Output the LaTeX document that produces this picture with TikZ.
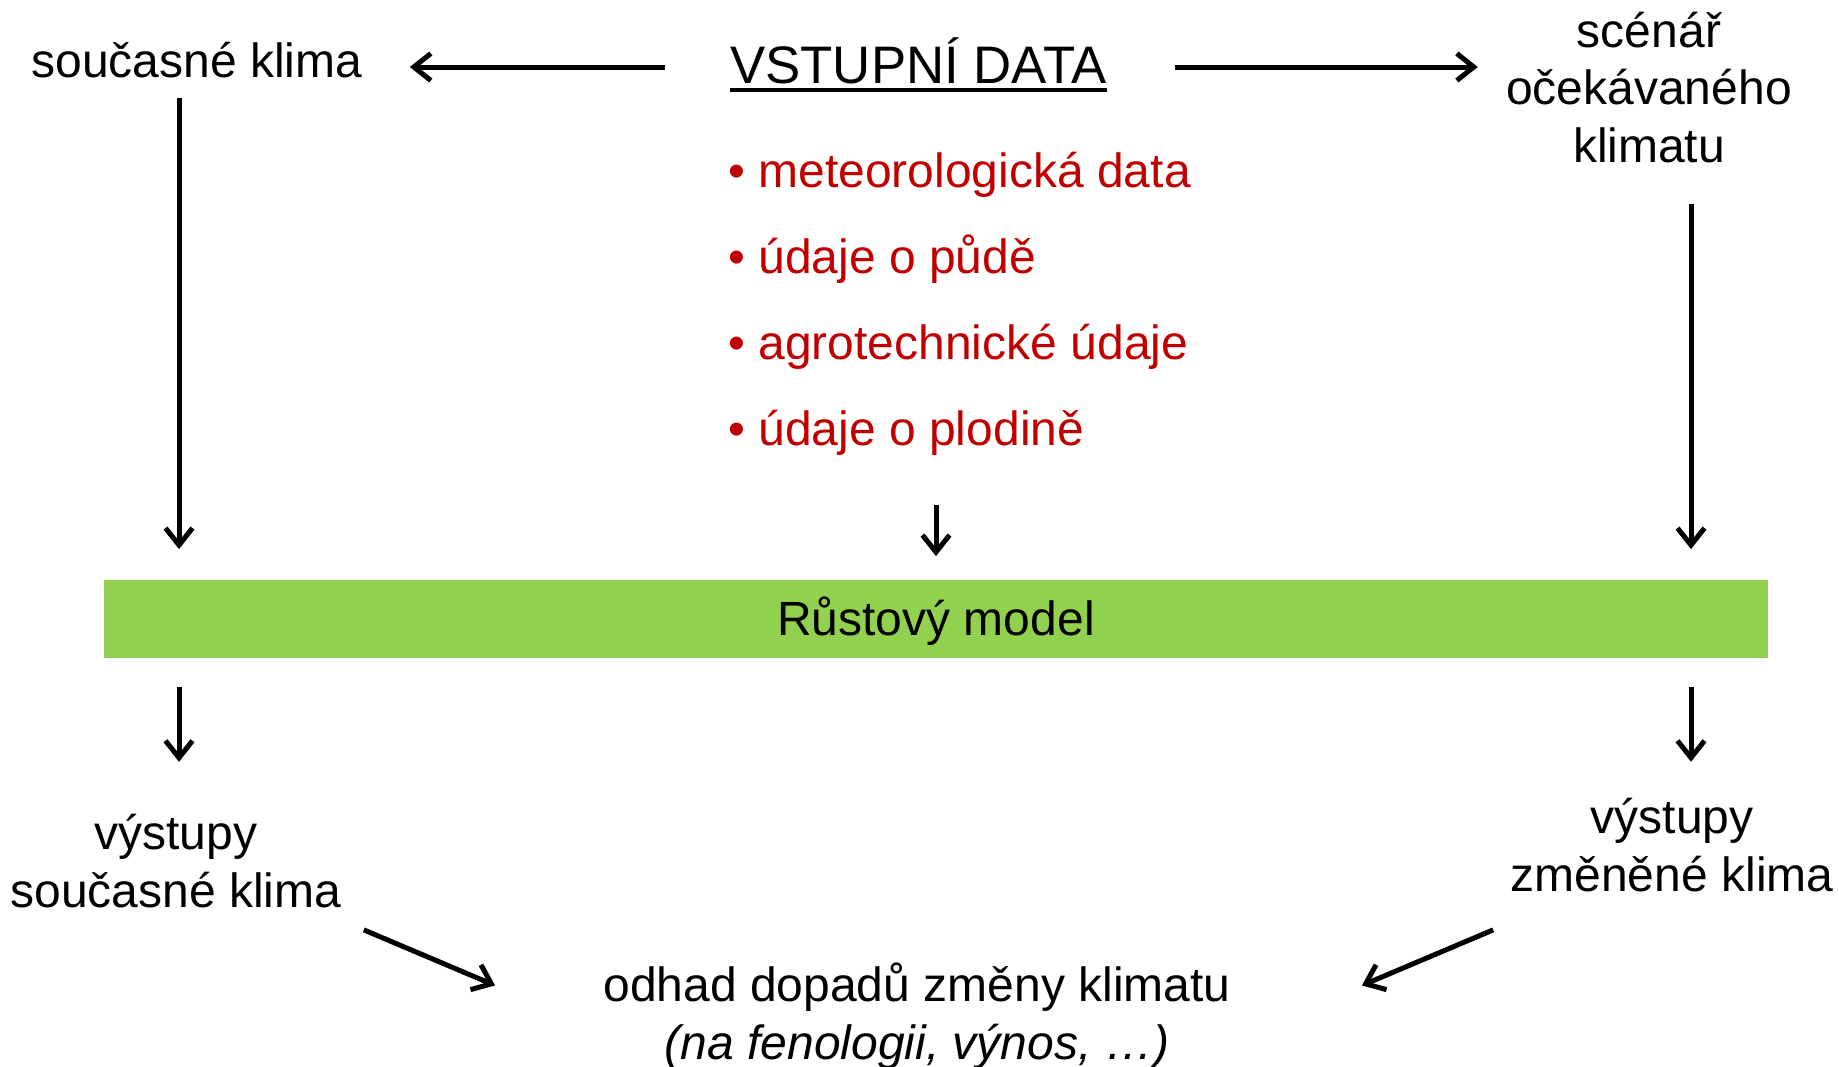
\documentclass[tikz,border=0pt]{standalone}
\usepackage{fontspec}
\setmainfont{Liberation Sans}
\usetikzlibrary{arrows.meta,positioning,calc}
\definecolor{datared}{HTML}{C00000}
\definecolor{modelgreen}{HTML}{92D050}

\begin{document}
\begin{tikzpicture}[x=0.5pt, y=-0.5pt, >={Straight Barb[length=8.5pt,width=13.5pt]},
  every node/.style={font=\fontsize{24}{28.75}\selectfont, inner sep=0pt},
  txt/.style={align=center, anchor=base},
  arr/.style={->, line width=2.5pt}]
  \useasboundingbox (0,0) rectangle (1839,1066);
  % top row
  \node[txt] (sk) at (197,77) {současné klima};
  \node[anchor=base, font=\fontsize{26.4}{31}\selectfont] (title) at (918.5,83) {VSTUPNÍ DATA};
  \draw[line width=1.6pt] ([yshift=-3.5pt]title.base west) -- ([yshift=-3.5pt]title.base east);
  \node[txt] (scen) at (1649,162) {scénář\\očekávaného\\klimatu};
  \node[anchor=base west, align=left, text=datared, font=\fontsize{24}{43}\selectfont] (data) at (728,445)
    {• meteorologická data\\• údaje o půdě\\• agrotechnické údaje\\• údaje o plodině};
  % model
  \node[fill=modelgreen, minimum width=832pt, minimum height=39pt, text height=17.2pt, text depth=0pt] (model) at (936,618.5) {Růstový model};
  % outputs
  \node[txt] (vyL) at (176,907) {výstupy\\současné klima};
  \node[txt] (vyR) at (1672,891) {výstupy\\změněné klima};
  \node[txt] (odhad) at (917,1059) {odhad dopadů změny klimatu\\\textit{(na fenologii, výnos, …)}};
  \coordinate (colL) at (179,0);
  \coordinate (colR) at (1691,0);
  % arrows
  \draw[arr, shorten <=32.5pt, shorten >=23.5pt] ([yshift=8pt]title.base west) -- ([yshift=5pt]sk.base east);
  \draw[arr, shorten <=34pt, shorten >=14pt] ([yshift=8pt]title.base east) -- ([yshift=8pt]title.base east -| scen.west);
  \draw[arr, shorten <=10pt, shorten >=15pt] (sk.south -| colL) -- (model.north -| colL);
  \draw[arr, shorten <=20.5pt, shorten >=15pt] (scen.south -| colR) -- (model.north -| colR);
  \draw[arr, shorten <=25pt, shorten >=11.5pt] (data.south -| model.north) -- (model.north);
  \draw[arr, shorten <=14.5pt, shorten >=26pt] (model.south -| colL) -- (vyL.north -| colL);
  \draw[arr, shorten <=14.5pt, shorten >=18pt] (model.south -| colR) -- (vyR.north -| colR);
  \draw[arr] ([xshift=11pt,yshift=-11pt]vyL.south east) -- ([xshift=-54pt,yshift=-11.5pt]odhad.north west);
  \draw[arr] ([xshift=-8.5pt,yshift=-19pt]vyR.south west) -- ([xshift=65.5pt,yshift=-11.5pt]odhad.north east);
\end{tikzpicture}
\end{document}
